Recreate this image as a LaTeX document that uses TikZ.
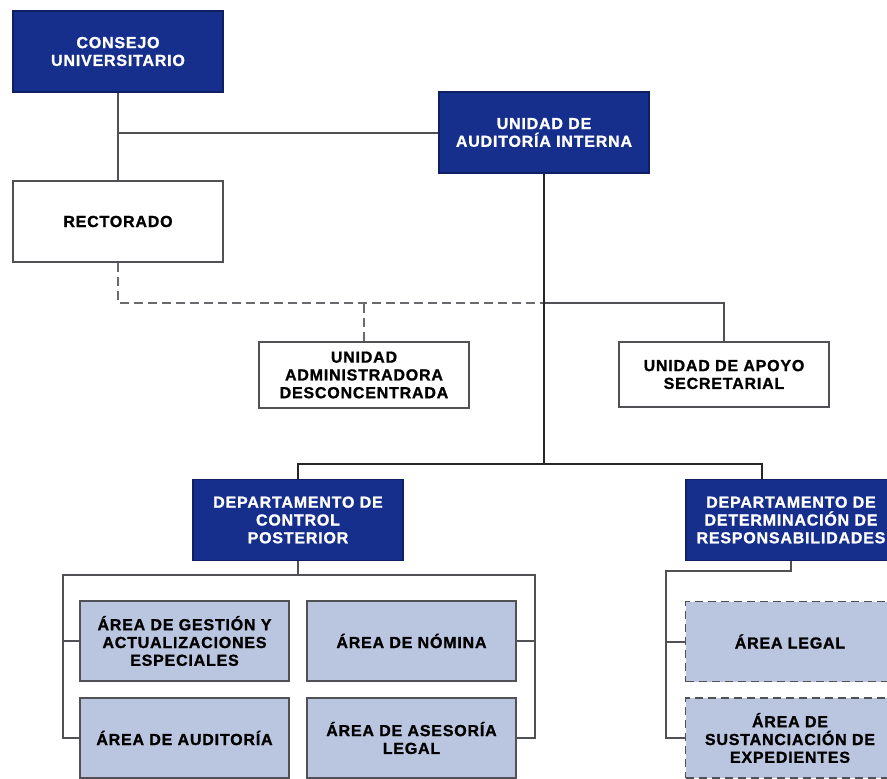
\documentclass[tikz,border=0pt]{standalone}
\usepackage{fontspec}
\setmainfont{Liberation Sans}
\newfontfamily\chartfont[LetterSpace=5,BoldFeatures={FakeBold=1.2}]{Liberation Sans}
\definecolor{uniBlue}{RGB}{22,46,140}
\definecolor{areaFill}{RGB}{186,198,223}
\definecolor{edgeGray}{RGB}{80,80,85}
\begin{document}
\begin{tikzpicture}
[x=1pt,y=-1pt,
  grayLine/.style={-,line width=2pt,color=edgeGray},%
  blackLine/.style={-,line width=2.4pt,color=black!85},%
  dashLine/.style={-,line width=2pt,color=edgeGray!85,dash pattern=on 9pt off 5pt},%
  boxText/.style={shape=rectangle,inner sep=0pt,align=center,
    font=\chartfont\bfseries\fontsize{16}{17.8}\selectfont},%
  darkBox/.style={boxText,draw=uniBlue!70!black,fill=uniBlue,text=white,line width=1.2pt,
    minimum width=210pt,minimum height=81pt},%
  whiteBox/.style={boxText,draw=edgeGray,fill=white,text=black,line width=1.8pt,minimum width=210pt},%
  areaBox/.style={boxText,draw=edgeGray,fill=areaFill,text=black,line width=1.8pt,
    minimum width=209pt,minimum height=80pt},%
  areaDashed/.style={areaBox,dash pattern=on 8pt off 5pt}]
\clip (0,0) rectangle (887,779);
%% blue boxes
\foreach \nodename/\x/\y/\txt in {cu/118/51.5/{CONSEJO\\UNIVERSITARIO},
  uai/544/132.5/{UNIDAD DE\\AUDITORÍA INTERNA},
  dcp/298/520/{DEPARTAMENTO DE\\CONTROL\\POSTERIOR},
  ddr/791/520/{DEPARTAMENTO DE\\DETERMINACIÓN DE\\RESPONSABILIDADES}}
{
  \node (\nodename) at (\x,\y) [darkBox] {\txt};
}
%% white boxes
\foreach \nodename/\x/\y/\h/\txt in {rect/118/221.5/81/{RECTORADO},
  uad/364/375/66/{UNIDAD\\ADMINISTRADORA\\DESCONCENTRADA},
  uas/724/374.5/65/{UNIDAD DE APOYO\\SECRETARIAL}}
{
  \node (\nodename) at (\x,\y) [whiteBox,minimum height=\h pt] {\txt};
}
%% areas
\foreach \nodename/\x/\y/\txt in {agae/184.5/641/{ÁREA DE GESTIÓN Y\\ACTUALIZACIONES\\ESPECIALES},
  nom/411.5/641/{ÁREA DE NÓMINA},
  aud/184.5/738/{ÁREA DE AUDITORÍA},
  ase/411.5/738/{ÁREA DE ASESORÍA\\LEGAL}}
{
  \node (\nodename) at (\x,\y) [areaBox] {\txt};
}
\foreach \nodename/\x/\y/\txt in {leg/790/641.5/{ÁREA LEGAL},
  sus/790/738/{ÁREA DE\\SUSTANCIACIÓN DE\\EXPEDIENTES}}
{
  \node (\nodename) at (\x,\y) [areaDashed] {\txt};
}
%% top lines
\coordinate (split) at (544,303);
\coordinate (hub) at (544,464);
\draw[grayLine] (cu) -- (rect);
\draw[grayLine] (cu.south |- uai.west) -- (uai.west);
\draw[dashLine] (rect.south) |- (split);
\draw[dashLine] (uad.north) -- (uad.north |- split);
\draw[grayLine] (split) -| (uas.north);
%% main line
\draw[blackLine] (uai.south) -- (hub);
\draw[blackLine] (dcp.north) |- (hub) -| ([xshift=-29pt]ddr.north);
%% control posterior
\coordinate (dcpBus) at (298,575);
\draw[grayLine] (dcp.south) -- (dcpBus);
\draw[grayLine] (aud.west) -- ++(-16,0) |- (dcpBus) -| ([xshift=18pt]ase.east) -- (ase.east);
\draw[grayLine] (agae.west) -- ++(-16,0);
\draw[grayLine] (nom.east) -- ++(18,0);
%% responsabilidades
\draw[grayLine] (ddr.south) -- ++(0,10) -| ([xshift=-19pt]sus.west) -- (sus.west);
\draw[grayLine] (leg.west) -- ++(-19,0);
\end{tikzpicture}
\end{document}
